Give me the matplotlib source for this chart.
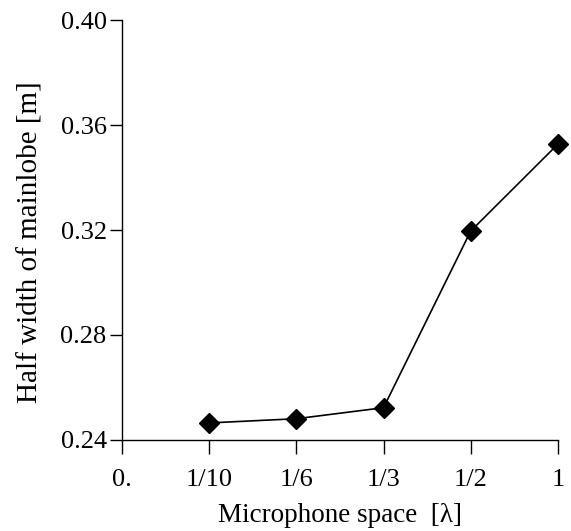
import matplotlib.pyplot as plt

# values
spacing_labels = ['0.', '1/10', '1/6', '1/3', '1/2', '1']
spacing_pos = [0, 1, 2, 3, 4, 5]
point_pos = [1, 2, 3, 4, 5]
half_width = [0.2465, 0.2481, 0.2523, 0.3196, 0.3527]
y_ticks = [0.24, 0.28, 0.32, 0.36, 0.40]
y_tick_labels = ['0.24', '0.28', '0.32', '0.36', '0.40']

plt.rcParams['font.family'] = ['Liberation Serif', 'DejaVu Serif']

fig = plt.figure(figsize=(5.71, 5.31), dpi=100)
ax = fig.add_axes([0.2137, 0.1714, 0.977 - 0.2137, 0.9623 - 0.1714])

ax.plot(point_pos, half_width, color='black', lw=1.2,
        marker='D', markersize=10, markerfacecolor='black', clip_on=False)

ax.set_xlim(0, 5)
ax.set_ylim(0.24, 0.40)
ax.set_xticks(spacing_pos)
ax.set_xticklabels(spacing_labels)
ax.set_yticks(y_ticks)
ax.set_yticklabels(y_tick_labels)

for s in ['top', 'right']:
    ax.spines[s].set_visible(False)
for s in ['left', 'bottom']:
    ax.spines[s].set_linewidth(1.0)

ax.tick_params(axis='x', direction='out', length=10, width=1.0, labelsize=19, pad=11)
ax.tick_params(axis='y', direction='out', length=9, width=1.0, labelsize=19, pad=2)

ax.set_xlabel('Microphone space  [λ]', fontsize=19.5, labelpad=8.5)
ax.set_ylabel('Half width of mainlobe [m]', fontsize=21, labelpad=12)
ax.yaxis.set_label_coords(-0.18, 0.47)

fig.savefig('out.png', dpi=100)
